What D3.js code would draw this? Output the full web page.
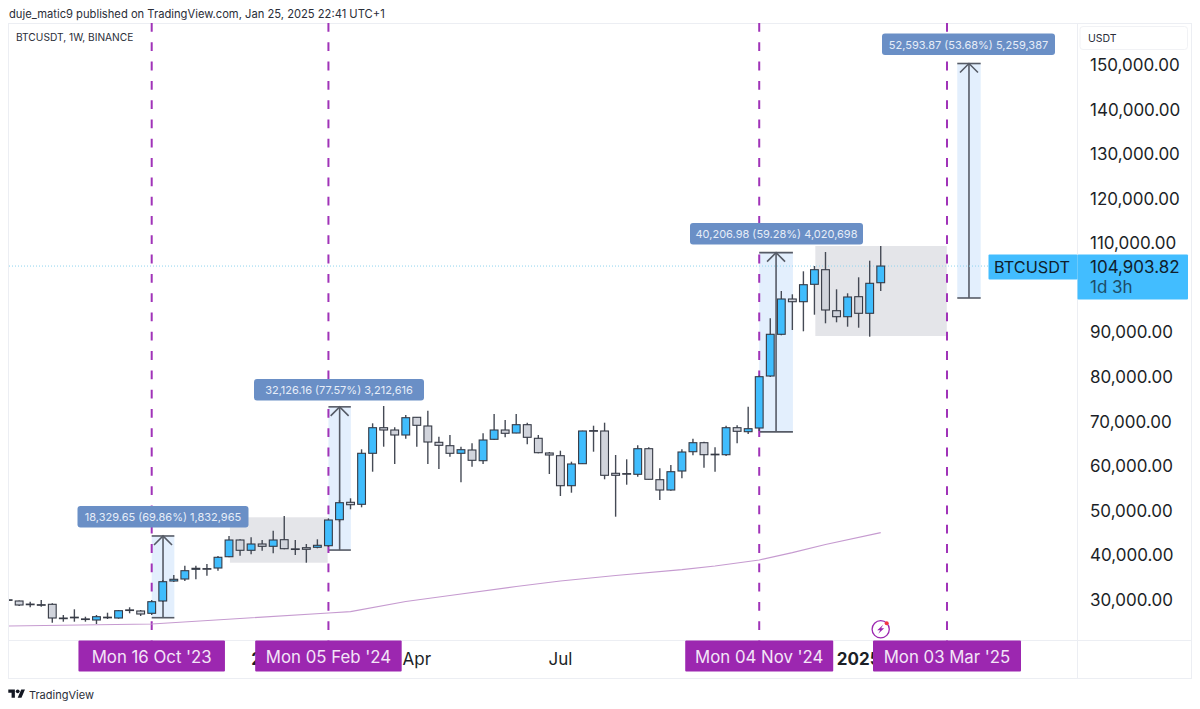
<!DOCTYPE html>
<html><head><meta charset="utf-8">
<script src="https://cdn.jsdelivr.net/npm/d3@7/dist/d3.min.js"></script>
<style>html,body{margin:0;padding:0;background:#fff}svg{display:block;font-family:Inter,"Liberation Sans",sans-serif}</style>
</head><body><svg id="c" width="1200" height="709"></svg>
<script>
// Weeks are counted from Mon 16 Oct '23 (week 0)
const firstWeek = -13;
const opens = [30050,29776,29080,28950,29036,25950,26080,25760,25514,26100,25963,27780,27533,27017,29776,34262,34710,36886,37040,37178,39712,43458,41148,42561,42045,43525,41470,41731,41821,42180,48010,51914,51465,62905,68646,68131,67010,70979,69028,65371,64609,62905,63645,61245,66045,68131,67458,69320,66269,62972,62367,55637,60572,67990,67907,58419,58350,58195,63936,56983,54673,58934,63263,65282,62700,62590,68646,67750,68580,80243,89596,97514,96908,100811,104087,94889,93544,98030,94306,101170];
const highs = [30200,29888,29619,30000,29260,26636,27914,26254,26636,27150,27757,28363,27757,30000,34486,35608,37693,37693,38075,39869,44355,43615,44064,43458,45544,48841,43458,42561,43615,48325,52430,52811,63802,69633,73514,68736,71496,71048,72460,66628,67010,64385,65147,67390,71720,70374,71720,69769,67010,63196,63488,61021,67974,69095,69769,62523,61559,64698,64250,59540,60280,63802,66180,65506,64250,69095,69184,73356,80355,93183,99309,98570,103726,104916,108056,99690,98794,102382,106105,109402];
const lows = [29800,28654,28363,28500,24908,25133,25133,25133,24617,25738,25806,27017,26411,26636,29551,34037,34262,34643,35451,36572,39577,39936,40250,41058,40475,41372,40094,38366,41596,41888,47495,50344,50792,58777,64385,60505,66180,64385,60505,59383,62143,56400,59899,60505,65888,66493,67390,64924,62905,58262,53327,54067,60505,63263,57074,48684,55861,57656,57030,52430,54516,57297,62456,59675,58777,62299,65147,67234,67907,80019,89372,90561,90269,93992,92063,92287,91301,91077,89058,99309];
const closes = [29950,28879,29000,28820,25963,25850,26140,25720,26254,26140,27600,27740,26860,29619,34105,34643,36572,37110,37000,39577,43458,41148,42561,42045,43458,41507,41410,41372,42269,47944,51824,51376,62905,68646,68131,67010,70890,69185,65439,64698,62905,63712,61335,65888,68131,67390,69320,66493,63039,62523,55637,60505,67907,67950,57970,57970,58300,63936,57074,54673,58777,63196,65282,62590,62660,68646,67838,68422,80086,89596,97514,96908,100721,104087,95047,93544,97963,94306,101035,104904];
const maWeeks = [-13,0,16,18,23,27,33,37,42,48,51,55,58,61,66];
const maValues = [24168,24617,27084,27376,29664,31009,33028,34262,35495,36796,37626,38972,40610,42449,45095];
const priceTicks = [30000,40000,50000,60000,70000,80000,90000,110000,120000,130000,140000,150000];
const timeTicks = [[11,"2024",true],[24,"Apr",false],[37,"Jul",false],[64,"2025",true]];
const markerWeeks = [0,16,55,72];
const markerLabels = ["Mon 16 Oct '23","Mon 05 Feb '24","Mon 04 Nov '24","Mon 03 Mar '25"];
const lastPrice = 104903.82;
const measureFrom = [26030,41200,67700,97740];
const measureTo = [44360,73326,107907,150334];
const measureStart = [0,16,55,72.93];
const measureSpan = [2.05,2.03,3.05,2.12];
const measureLabels = ["18,329.65 (69.86%) 1,832,965","32,126.16 (77.57%) 3,212,616","40,206.98 (59.28%) 4,020,698","52,593.87 (53.68%) 5,259,387"];
const rangeWeeks = [[7.08,15.93],[60.08,71.98]];
const rangeValues = [[38366,48550],[89215,109402]];

const L=9,R=1077,T=23,B=641;
const x=d3.scaleLinear().domain([0,72]).range([151.7,947]);
const y=d3.scaleLinear().domain([30000,150000]).range([600,65]);
const svg=d3.select("#c");
svg.append("defs").append("clipPath").attr("id","pane").append("rect").attr("x",L).attr("y",T).attr("width",R-L).attr("height",B-T);
const grid="#eceef3";
svg.append("text").attr("x",9).attr("y",18).attr("font-size",11.2).attr("fill","#2a2e39").text("duje_matic9 published on TradingView.com, Jan 25, 2025 22:41 UTC+1");
svg.append("rect").attr("x",8.5).attr("y",23.5).attr("width",1183).attr("height",655).attr("fill","none").attr("stroke",grid);
svg.append("line").attr("x1",8.5).attr("x2",1191).attr("y1",640.5).attr("y2",640.5).attr("stroke",grid);
svg.append("line").attr("x1",1077.5).attr("x2",1077.5).attr("y1",23).attr("y2",678).attr("stroke",grid);
const pane=svg.append("g").attr("clip-path","url(#pane)");
rangeWeeks.forEach((w,k)=>pane.append("rect").attr("x",x(w[0])).attr("width",x(w[1])-x(w[0])).attr("y",y(rangeValues[k][1])).attr("height",y(rangeValues[k][0])-y(rangeValues[k][1])).attr("fill","#e4e5e9"));
measureStart.forEach((w,k)=>{
  const a=y(measureFrom[k]),b=y(measureTo[k]);
  const x0=x(w), x1=x(w+measureSpan[k]), xm=(x0+x1)/2;
  pane.append("rect").attr("x",x0).attr("width",x1-x0).attr("y",b).attr("height",a-b).attr("fill","#e3effd");
  const s=pane.append("g").attr("stroke","#565b66").attr("stroke-width",1.6).attr("fill","none");
  s.append("line").attr("x1",x0).attr("x2",x1).attr("y1",a).attr("y2",a);
  s.append("line").attr("x1",x0).attr("x2",x1).attr("y1",b).attr("y2",b);
  s.append("line").attr("x1",xm).attr("x2",xm).attr("y1",a).attr("y2",b);
  s.append("path").attr("d",`M${xm-9},${b+9}L${xm},${b}L${xm+9},${b+9}`);
});
markerWeeks.forEach(w=>pane.append("line").attr("x1",x(w)).attr("x2",x(w)).attr("y1",T).attr("y2",B).attr("stroke","#a033b8").attr("stroke-width",2).attr("stroke-dasharray","8.8 10.5"));
pane.append("path").attr("d",d3.line().x(d=>x(d[0])).y(d=>y(d[1]))(d3.zip(maWeeks,maValues))).attr("fill","none").attr("stroke","#c69bd0").attr("stroke-width",1.2);
pane.append("line").attr("x1",L).attr("x2",R).attr("y1",y(lastPrice)).attr("y2",y(lastPrice)).attr("stroke","#8fd3ee").attr("stroke-width",1).attr("stroke-dasharray","1 2");
const idx=d3.range(opens.length);
const wk=i=>i+firstWeek;
pane.selectAll("line.w").data(idx).join("line").attr("class","w").attr("x1",i=>x(wk(i))).attr("x2",i=>x(wk(i))).attr("y1",i=>y(highs[i])).attr("y2",i=>y(lows[i])).attr("stroke","#454a55").attr("stroke-width",1.4);
pane.selectAll("rect.b").data(idx).join("rect").attr("class","b")
 .attr("x",i=>x(wk(i))-3.9).attr("width",7.8)
 .attr("y",i=>y(Math.max(opens[i],closes[i])))
 .attr("height",i=>Math.max(0.6,Math.abs(y(opens[i])-y(closes[i]))))
 .attr("fill",i=>closes[i]>=opens[i]?"#40bdfd":"#d1d4dc").attr("stroke","#363a45").attr("stroke-width",1.1);
const labelBoxes=[[77.5,248.5,506],[254,424,379],[690,863,223],[882,1055,33.5]];
measureLabels.forEach((t,k)=>{
  const b=labelBoxes[k];
  svg.append("rect").attr("x",b[0]).attr("y",b[2]).attr("width",b[1]-b[0]).attr("height",21.5).attr("rx",3).attr("fill","#6a8fc6");
  svg.append("text").attr("x",(b[0]+b[1])/2).attr("y",b[2]+15).attr("text-anchor","middle").attr("font-size",11).attr("fill","#e6edf8").text(t);
});
svg.append("text").attr("x",16).attr("y",41).attr("font-size",10.2).attr("fill","#2a2e39").text("BTCUSDT, 1W, BINANCE");
svg.append("rect").attr("x",1080).attr("y",26.5).attr("width",107.5).attr("height",23).attr("rx",3).attr("fill","#fff").attr("stroke","#f1f2f5");
svg.append("text").attr("x",1088).attr("y",42).attr("font-size",10.5).attr("fill","#2a2e39").text("USDT");
const fmt=d3.format(",.2f");
const axis=d3.axisRight(y).tickValues(priceTicks).tickFormat(fmt).tickSize(0).tickPadding(0);
const ag=svg.append("g").attr("transform","translate(1090,0)").call(axis);
ag.select(".domain").remove();
ag.selectAll("text").attr("font-size",17).attr("font-family","Inter").attr("fill","#1c1f27");
svg.append("rect").attr("x",988.5).attr("y",254.5).attr("width",89).attr("height",25).attr("fill","#42bdff").attr("rx",1);
svg.append("text").attr("x",994).attr("y",272.7).attr("font-size",16.3).attr("fill","#10202c").text("BTCUSDT");
svg.append("rect").attr("x",1077.5).attr("y",254.5).attr("width",110.5).attr("height",45).attr("fill","#42bdff").attr("rx",1);
svg.append("text").attr("x",1090).attr("y",272.7).attr("font-size",17).attr("fill","#10202c").text(fmt(lastPrice));
svg.append("text").attr("x",1090).attr("y",292.7).attr("font-size",17).attr("fill","#1d4d68").text("1d 3h");
timeTicks.forEach(t=>svg.append("text").attr("x",x(t[0])).attr("y",665).attr("text-anchor","middle").attr("font-size",17).attr("font-weight",t[2]?700:400).attr("fill","#1c1f27").text(t[1]));
markerWeeks.forEach((w,k)=>{
  const wd=k<2?146.5:148;
  svg.append("rect").attr("x",x(w)-wd/2).attr("y",640.5).attr("width",wd).attr("height",31).attr("rx",1).attr("fill","#9c27b0");
  svg.append("text").attr("x",x(w)).attr("y",663).attr("text-anchor","middle").attr("font-size",16.8).attr("fill","#f3e5f7").text(markerLabels[k]);
});
const ic=svg.append("g").attr("transform","translate(880.7,629.3)");
ic.append("circle").attr("r",8.6).attr("fill","#fff").attr("stroke","#9c27b0").attr("stroke-width",1.3);
ic.append("path").attr("d","M2.5,-4.5L-3.5,1H-0.5L-2.5,4.5L3.5,-1H0.5Z").attr("fill","#9c27b0");
ic.append("circle").attr("cx",6).attr("cy",-6).attr("r",2).attr("fill","#f23645");
const lg=svg.append("g").attr("transform","translate(8.3,687.5) scale(0.47)").attr("fill","#131722");
lg.append("path").attr("d","M14 22H7V11H0V4h14v18zM28 22h-8l7.5-18h8L28 22z");
lg.append("circle").attr("cx",20).attr("cy",8).attr("r",4);
svg.append("text").attr("x",29).attr("y",698.5).attr("font-size",11).attr("fill","#2a2e39").text("TradingView");
</script></body></html>
